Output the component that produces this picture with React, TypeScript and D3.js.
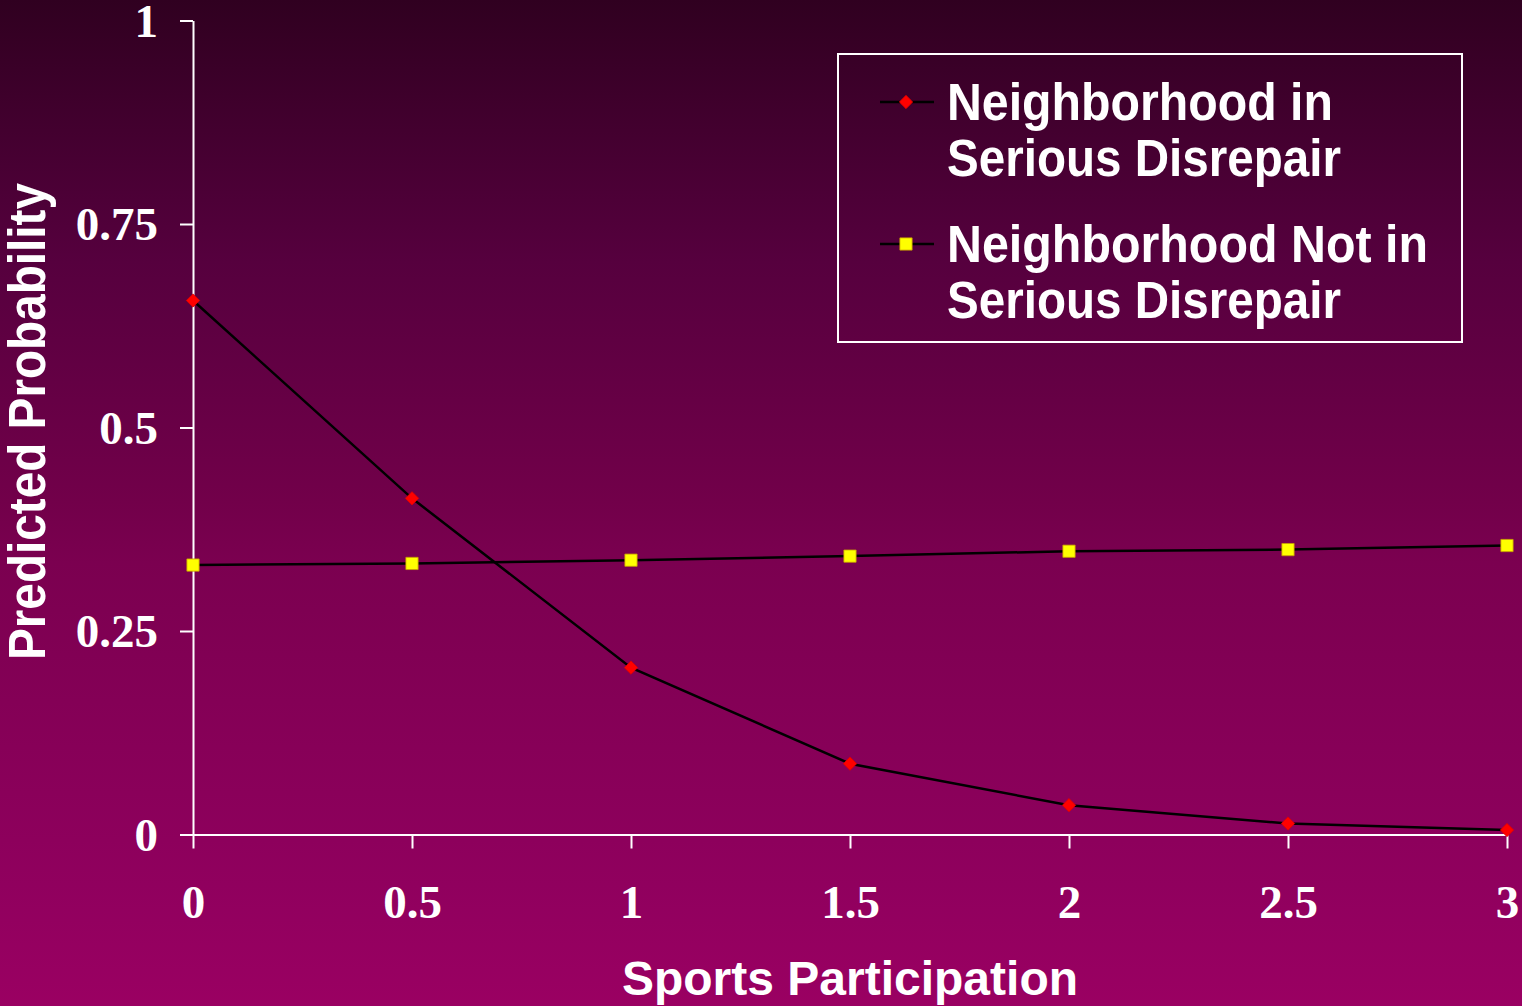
import { useEffect, useRef } from "react";
import { axisBottom, axisLeft, line, scaleLinear, select, symbol, symbolSquare } from "d3";

const sportsParticipation = [0, 0.5, 1, 1.5, 2, 2.5, 3];
const disrepairValues = [0.656, 0.413, 0.205, 0.087, 0.036, 0.0135, 0.0055];
const notDisrepairValues = [0.331, 0.333, 0.337, 0.342, 0.348, 0.35, 0.355];
const xTicks = [0, 0.5, 1, 1.5, 2, 2.5, 3];
const yTicks = [0, 0.25, 0.5, 0.75, 1];
const seriesNames = [
  ["Neighborhood in", "Serious Disrepair"],
  ["Neighborhood Not in", "Serious Disrepair"],
];
const legendLineLengths = [
  [386, 394],
  [481, 394],
];

const WIDTH = 1522;
const HEIGHT = 1006;
const serif = "'Liberation Serif', 'Times New Roman', serif";
const sans = "'Liberation Sans', Arial, Helvetica, sans-serif";

export default function App() {
  const svgRef = useRef<SVGSVGElement | null>(null);

  useEffect(() => {
    const svg = select(svgRef.current);
    svg.selectAll("*").remove();

    // background gradient
    const grad = svg
      .append("defs")
      .append("linearGradient")
      .attr("id", "bg")
      .attr("x1", 0)
      .attr("y1", 0)
      .attr("x2", 0)
      .attr("y2", 1);
    [
      [0, "#300020"],
      [0.26, "#56003e"],
      [0.5, "#72004a"],
      [0.56, "#7b0050"],
      [0.88, "#90005e"],
      [1, "#9a0062"],
    ].forEach(([o, c]) => grad.append("stop").attr("offset", o).attr("stop-color", c));
    svg.append("rect").attr("width", WIDTH).attr("height", HEIGHT).attr("fill", "url(#bg)");

    const x = scaleLinear().domain([0, 3]).range([193, 1507]);
    const y = scaleLinear().domain([0, 1]).range([834.5, 20.5]);

    // y axis
    const yAxis = svg.append("g").attr("transform", `translate(${x(0)},0)`);
    yAxis.call(
      axisLeft(y)
        .tickValues(yTicks)
        .tickSize(13)
        .tickSizeOuter(0)
        .tickFormat((d) => String(d))
    );
    yAxis.select(".domain").attr("stroke", "#fff").attr("stroke-width", 2);
    yAxis.selectAll(".tick line").attr("stroke", "#fff").attr("stroke-width", 2);
    yAxis
      .selectAll(".tick text")
      .attr("x", -35)
      .attr("dy", "0.33em")
      .attr("fill", "#fff")
      .style("font-family", serif)
      .style("font-weight", "bold")
      .style("font-size", "47px");

    // x axis
    const xAxis = svg.append("g").attr("transform", `translate(0,${y(0)})`);
    xAxis.call(
      axisBottom(x)
        .tickValues(xTicks)
        .tickSize(14)
        .tickSizeOuter(0)
        .tickFormat((d) => String(d))
    );
    xAxis.select(".domain").attr("stroke", "#fff").attr("stroke-width", 2);
    xAxis.selectAll(".tick line").attr("stroke", "#fff").attr("stroke-width", 2);
    xAxis
      .selectAll(".tick text")
      .attr("y", 83)
      .attr("dy", 0)
      .attr("fill", "#fff")
      .style("font-family", serif)
      .style("font-weight", "bold")
      .style("font-size", "47px");

    // axis titles
    svg
      .append("text")
      .attr("x", 850)
      .attr("y", 995)
      .attr("text-anchor", "middle")
      .attr("fill", "#fff")
      .style("font-family", sans)
      .style("font-weight", "bold")
      .style("font-size", "48px")
      .text("Sports Participation");
    svg
      .append("text")
      .attr("transform", "translate(45,421.5) rotate(-90)")
      .attr("text-anchor", "middle")
      .attr("fill", "#fff")
      .attr("textLength", 477)
      .attr("lengthAdjust", "spacingAndGlyphs")
      .style("font-family", sans)
      .style("font-weight", "bold")
      .style("font-size", "51px")
      .text("Predicted Probability");

    // diamonds are squares turned by 45 degrees
    const series = [
      { values: disrepairValues, fill: "#ff0000", stroke: "#e00000", size: 88, rotate: 45 },
      { values: notDisrepairValues, fill: "#ffff00", stroke: "#c8a000", size: 150, rotate: 0 },
    ];
    const marker = symbol().type(symbolSquare);

    const lineGen = line<number>()
      .x((_, i) => x(sportsParticipation[i]))
      .y((d) => y(d));

    series.forEach((s) => {
      svg
        .append("path")
        .attr("d", lineGen(s.values))
        .attr("fill", "none")
        .attr("stroke", "#000")
        .attr("stroke-width", 2.5);
      svg
        .selectAll(null)
        .data(s.values)
        .enter()
        .append("path")
        .attr("transform", (d, i) => `translate(${x(sportsParticipation[i])},${y(d)}) rotate(${s.rotate})`)
        .attr("d", marker.size(s.size)())
        .attr("fill", s.fill)
        .attr("stroke", s.stroke)
        .attr("stroke-width", 0.8);
    });

    // legend
    const legend = svg.append("g");
    legend
      .append("rect")
      .attr("x", 838)
      .attr("y", 54)
      .attr("width", 624)
      .attr("height", 288)
      .attr("fill", "none")
      .attr("stroke", "#fff")
      .attr("stroke-width", 2);

    series.forEach((s, i) => {
      const ly = 102 + i * 142;
      legend
        .append("line")
        .attr("x1", 880)
        .attr("x2", 934)
        .attr("y1", ly)
        .attr("y2", ly)
        .attr("stroke", "#000")
        .attr("stroke-width", 2.5);
      legend
        .append("path")
        .attr("transform", `translate(906,${ly}) rotate(${s.rotate})`)
        .attr("d", marker.size(s.size)())
        .attr("fill", s.fill)
        .attr("stroke", s.stroke)
        .attr("stroke-width", 0.8);
      seriesNames[i].forEach((t, j) => {
        legend
          .append("text")
          .attr("x", 947)
          .attr("y", ly + 18 + j * 56)
          .attr("fill", "#fff")
          .attr("textLength", legendLineLengths[i][j])
          .attr("lengthAdjust", "spacingAndGlyphs")
          .style("font-family", sans)
          .style("font-weight", "bold")
          .style("font-size", "51px")
          .text(t);
      });
    });
  }, []);

  return (
    <svg
      ref={svgRef}
      width={WIDTH}
      height={HEIGHT}
      style={{ position: "absolute", left: 0, top: 0, display: "block" }}
    ></svg>
  );
}
